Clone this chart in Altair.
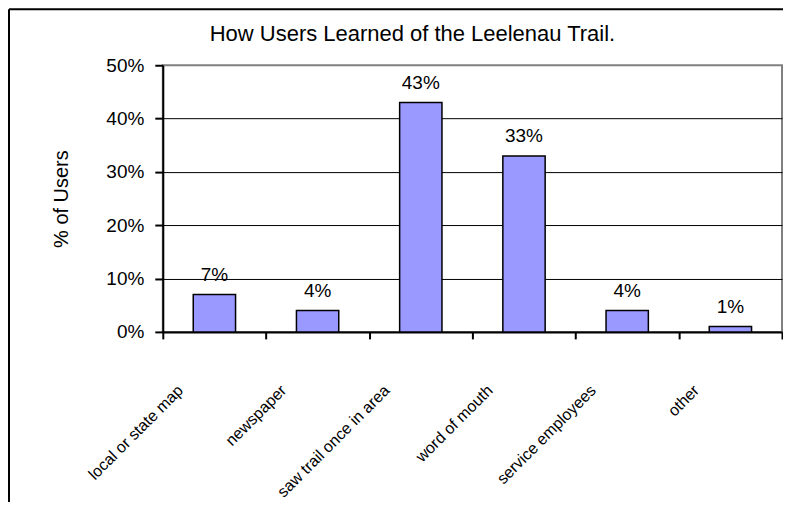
import altair as alt
import pandas as pd

categories = ["local or state map", "newspaper", "saw trail once in area",
              "word of mouth", "service employees", "other"]
shares = [0.07, 0.04, 0.43, 0.33, 0.04, 0.01]
y_ticks = [0, 0.1, 0.2, 0.3, 0.4, 0.5]
title_text = "How Users Learned of the Leelenau Trail."
y_title = "% of Users"

df = pd.DataFrame({"category": categories, "share": shares})
W, H = 620, 267
FONT = "Liberation Sans"

x_enc = alt.X(
    "category:N", sort=categories,
    scale=alt.Scale(paddingInner=0, paddingOuter=0),
    axis=alt.Axis(title=None, labelAngle=-45, labelAlign="right", labelBaseline="top",
                  labelOffset=-40, labelPadding=43, tickBand="extent", tickSize=7,
                  tickColor="black", tickWidth=2, domainColor="black", domainWidth=2,
                  labelFont=FONT, labelFontSize=16, labelColor="black", grid=False,
                  labelOverlap=False, labelBound=False),
)
y_enc = alt.Y(
    "share:Q",
    scale=alt.Scale(domain=[0, 0.5], nice=False),
    axis=alt.Axis(values=y_ticks, format=".0%", title=y_title, titleAngle=270,
                  titleX=-101, titleY=H / 2, titleAlign="center", titleBaseline="middle",
                  titleFont=FONT, titleFontSize=20, titleFontWeight="normal",
                  titleColor="black", labelFont=FONT, labelFontSize=19,
                  labelColor="black", labelPadding=11, tickSize=8, tickColor="black",
                  tickWidth=2, domainColor="black", domainWidth=2, gridColor="black",
                  gridWidth=1,
                  gridOpacity=alt.condition("datum.value >= 0.5", alt.value(0), alt.value(1))),
)

bars = alt.Chart(df).mark_bar(
    color="#9999FF", stroke="black", strokeWidth=1.5, width=alt.RelativeBandSize(0.41)
).encode(x=x_enc, y=y_enc)

labels = alt.Chart(df).mark_text(
    font=FONT, fontSize=19, color="black", baseline="alphabetic", dy=-14
).encode(
    x=alt.X("category:N", sort=categories),
    y=alt.Y("share:Q"),
    text=alt.Text("share:Q", format=".0%"),
)

frame = pd.DataFrame({"k": [0]})
left_rule = alt.Chart(frame).mark_rule(color="black", strokeWidth=2).encode(
    x=alt.value(-154), y=alt.value(-56), y2=alt.value(H + 175))
top_rule = alt.Chart(frame).mark_rule(color="black", strokeWidth=2).encode(
    x=alt.value(-154), x2=alt.value(W + 10), y=alt.value(-56))

chart = alt.layer(bars, labels, left_rule, top_rule).properties(
    width=W, height=H,
    title=alt.TitleParams(title_text, font=FONT, fontSize=22, fontWeight="normal",
                          color="black", anchor="middle", dx=-60, dy=55, offset=0,
                          baseline="alphabetic"),
    autosize=alt.AutoSizeParams(type="none"),
    padding={"left": 155, "top": 57, "right": 1, "bottom": 170},
    background="white",
).configure_view(stroke="#808080", strokeWidth=2)

chart.save("out.html", embed_options={"renderer": "svg", "actions": False})
